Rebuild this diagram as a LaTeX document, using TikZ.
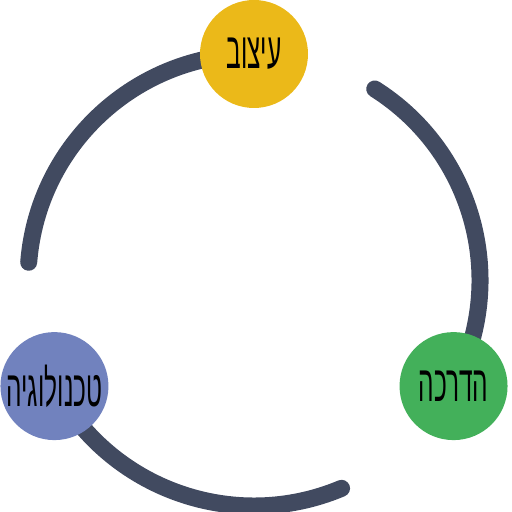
\documentclass[tikz,border=0pt]{standalone}
\usepackage{fontspec}
\usetikzlibrary{calc}
\TeXXeTstate=1
\newfontfamily\hebfont[Script=Hebrew,FakeStretch=0.48]{Liberation Sans}
\definecolor{ringc}{RGB}{65,74,96}
\definecolor{yel}{RGB}{235,185,25}
\definecolor{grn}{RGB}{67,176,90}
\definecolor{blu}{RGB}{113,130,190}
\begin{document}
\begin{tikzpicture}[x=1pt,y=1pt,
  ring/.style={draw=ringc,line width=17pt,line cap=round},
  bubble/.style={circle,inner sep=0pt,minimum size=108pt,text=black,
    font=\hebfont\fontsize{51}{51}\selectfont}]
\useasboundingbox (0,0) rectangle (512,512);
\coordinate (c) at (254,232);
\draw[ring] ($(c)+(90:226)$) arc[start angle=90,end angle=175.5,radius=226];
\draw[ring] ($(c)+(-28:226)$) arc[start angle=-28,end angle=57.7,radius=226];
\draw[ring] ($(c)+(208:226)$) arc[start angle=208,end angle=292.8,radius=226];
\node[bubble,fill=yel] (design) at ($(c)+(90:226)$) {\beginR עיצוב\endR};
\node[bubble,fill=grn] (guide) at ($(c)+(-28:226)$) {\beginR הדרכה\endR};
\node[bubble,fill=blu] (tech) at ($(c)+(208:226)$) {\beginR טכנולוגיה\endR};
\end{tikzpicture}
\end{document}
